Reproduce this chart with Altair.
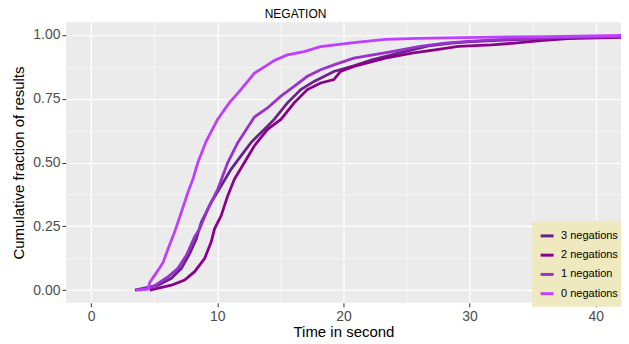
import altair as alt
import pandas as pd

series_names = ["3 negations", "2 negations", "1 negation", "0 negations"]
series_colors = ["#68228B", "#8B008B", "#9932CC", "#BF3EFF"]

# time (s) and cumulative fraction
t3 = [3.47, 5.31, 6.36, 7.15, 7.81, 8.34, 8.73, 9.52, 10.31, 11.10, 11.88, 12.67, 13.72, 14.51,
      15.56, 16.62, 17.67, 19.24, 20.82, 22.26, 24.37, 26.74, 28.57, 30.15, 33.8, 38.6, 42.0]
f3 = [0.000, 0.019, 0.046, 0.085, 0.143, 0.201, 0.266, 0.344, 0.409, 0.474, 0.526, 0.578, 0.630, 0.669,
      0.734, 0.786, 0.818, 0.857, 0.879, 0.903, 0.929, 0.957, 0.968, 0.974, 0.982, 0.990, 0.993]

t2 = [4.65, 6.36, 7.41, 8.20, 8.99, 9.52, 9.78, 10.31, 10.83, 11.36, 12.15, 12.93, 13.98, 15.04,
      16.09, 17.14, 18.19, 19.24, 19.77, 20.82, 23.32, 25.42, 27.26, 29.10, 31.73, 33.57, 35.41, 37.78, 42.0]
f2 = [0.000, 0.019, 0.039, 0.072, 0.123, 0.189, 0.240, 0.292, 0.370, 0.435, 0.500, 0.565, 0.630, 0.669,
      0.734, 0.786, 0.812, 0.825, 0.857, 0.877, 0.909, 0.929, 0.942, 0.955, 0.961, 0.968, 0.977, 0.986, 0.991]

t1 = [3.86, 4.91, 6.10, 6.88, 7.55, 8.20, 8.60, 9.25, 10.04, 10.83, 11.62, 12.93, 13.98, 15.04,
      16.09, 17.14, 18.19, 19.24, 20.82, 23.84, 25.95, 28.05, 29.63, 32.26, 36.99, 42.0]
f1 = [0.000, 0.013, 0.052, 0.085, 0.136, 0.208, 0.240, 0.318, 0.396, 0.500, 0.578, 0.678, 0.714, 0.760,
      0.799, 0.838, 0.864, 0.883, 0.909, 0.935, 0.954, 0.968, 0.974, 0.982, 0.990, 0.994]

t0 = [3.55, 4.50, 4.65, 5.31, 5.70, 6.10, 6.62, 7.15, 7.67, 8.07, 8.46, 9.12, 10.02, 10.96, 11.75,
      12.93, 13.98, 14.51, 15.56, 16.88, 18.19, 20.82, 23.32, 25.95, 30.68, 36.2, 42.0]
f0 = [0.000, 0.003, 0.030, 0.078, 0.108, 0.162, 0.228, 0.305, 0.383, 0.435, 0.500, 0.583, 0.669, 0.735, 0.779,
      0.850, 0.883, 0.900, 0.922, 0.935, 0.954, 0.970, 0.983, 0.987, 0.991, 0.994, 0.998]

rows = []
for name, ts, fs in zip(series_names, [t3, t2, t1, t0], [f3, f2, f1, f0]):
    for i, (t, f) in enumerate(zip(ts, fs)):
        rows.append({"series": name, "time": t, "frac": f, "idx": i})
df = pd.DataFrame(rows)

FONT = "Liberation Sans"
MAJ_Y = "abs(datum.value*4 - round(datum.value*4)) < 0.01"
MAJ_X = "datum.value % 10 === 0"

x_axis = alt.Axis(
    values=[0, 5, 10, 15, 20, 25, 30, 35, 40],
    labelExpr=MAJ_X + " ? datum.label : ''",
    title="Time in second",
    titleFont=FONT, titleFontSize=15, titleFontWeight="normal", titleColor="black", titlePadding=1,
    labelFont=FONT, labelFontSize=14, labelColor="#4D4D4D", labelPadding=3,
    domain=False,
    tickColor="#333333", tickSize=4,
    tickOpacity={"condition": {"test": MAJ_X, "value": 1}, "value": 0},
    grid=True, gridColor="white",
    gridWidth={"condition": {"test": MAJ_X, "value": 1.2}, "value": 0.55},
)

y_axis = alt.Axis(
    values=[0, 0.125, 0.25, 0.375, 0.5, 0.625, 0.75, 0.875, 1.0],
    format=".2f",
    labelExpr=MAJ_Y + " ? datum.label : ''",
    title="Cumulative fraction of results",
    titleFont=FONT, titleFontSize=15, titleFontWeight="normal", titleColor="black", titlePadding=6,
    labelFont=FONT, labelFontSize=14, labelColor="#4D4D4D", labelPadding=2,
    domain=False,
    tickColor="#333333", tickSize=4,
    tickOpacity={"condition": {"test": MAJ_Y, "value": 1}, "value": 0},
    grid=True, gridColor="white",
    gridWidth={"condition": {"test": MAJ_Y, "value": 1.2}, "value": 0.55},
)

chart = alt.Chart(df).mark_line(strokeWidth=2.8, clip=True).encode(
    x=alt.X("time:Q", scale=alt.Scale(domain=[-2, 42], nice=False, zero=False), axis=x_axis),
    y=alt.Y("frac:Q", scale=alt.Scale(domain=[-0.05, 1.05], nice=False, zero=False), axis=y_axis),
    color=alt.Color(
        "series:N",
        scale=alt.Scale(domain=series_names, range=series_colors),
        legend=alt.Legend(
            title=None, orient="none", legendX=467, legendY=199,
            fillColor="#EEE9BF", padding=7, rowPadding=5.3,
            symbolType="stroke", symbolStrokeWidth=3, symbolSize=169,
            labelFont=FONT, labelFontSize=11, labelColor="black", labelOffset=6,
        ),
    ),
    order="idx:Q",
).properties(
    width=556,
    height=281,
    title=alt.TitleParams("NEGATION", font=FONT, fontSize=12, fontWeight="normal", color="black",
                          anchor="middle", dx=-48, offset=1),
    autosize=alt.AutoSizeParams(type="none"),
    padding={"left": 58, "top": 14, "right": 0, "bottom": 36},
).configure_view(fill="#EBEBEB", stroke=None)

chart.save("out.html", embed_options={"renderer": "svg", "actions": False})
